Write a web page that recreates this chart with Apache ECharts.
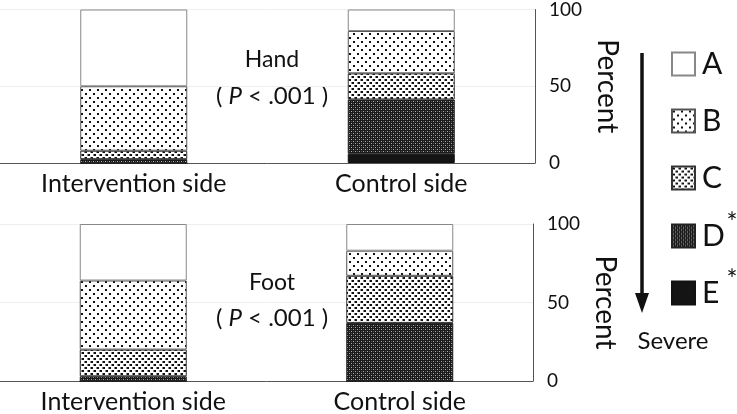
<!DOCTYPE html>
<html>
<head>
<meta charset="utf-8">
<script src="https://cdn.jsdelivr.net/npm/echarts@6/dist/echarts.min.js"></script>
<style>html,body{margin:0;padding:0;background:#fff;}#c{width:737px;height:414px;}</style>
</head>
<body>
<div id="c"></div>
<script>
// ---- data ----
const categories = ['Intervention side', 'Control side'];
const grades = ['A', 'B', 'C', 'D', 'E'];
const starred = ['D', 'E'];
const yTicks = [0, 50, 100];
// percent per grade, [intervention, control]
const handA = [50, 14];
const handB = [42, 27.6];
const handC = [5.5, 17];
const handD = [2.5, 35.4];
const handE = [0, 6];
const footA = [36, 17];
const footB = [44, 16];
const footC = [17, 30];
const footD = [3, 37];
const footE = [0, 0];
const panelTitles = ['Hand', 'Foot'];

// ---- patterns ----
function tile(w, h, bg, draw) {
  const c = document.createElement('canvas');
  c.width = w; c.height = h;
  const g = c.getContext('2d');
  g.fillStyle = bg; g.fillRect(0, 0, w, h);
  draw(g);
  return c;
}
const patB = tile(8, 8, '#fff', g => { g.fillStyle = '#111'; g.fillRect(1, 1, 2, 2); g.fillRect(5, 5, 2, 2); });
const patC = tile(6, 6, '#fff', g => {
  g.fillStyle = '#111';
  g.fillRect(1, 1, 2, 2); g.fillRect(4, 4, 2, 2);
  g.fillStyle = '#888';
  g.fillRect(0, 1, 1, 2); g.fillRect(3, 4, 1, 2);
});
const patD = tile(4, 4, '#1a1a1a', g => {
  g.fillStyle = '#b0b0b0'; g.fillRect(1, 1, 1, 1); g.fillRect(3, 3, 1, 1);
  g.fillStyle = '#555'; g.fillRect(3, 1, 1, 1); g.fillRect(1, 3, 1, 1);
});
const fills = {
  A: '#ffffff',
  B: { image: patB, repeat: 'repeat' },
  C: { image: patC, repeat: 'repeat' },
  D: { image: patD, repeat: 'repeat' },
  E: '#141414'
};
const borders = { A: '#888', B: '#555', C: '#333', D: '#222', E: '#111' };

const FONT = 'Lato';
const chart = echarts.init(document.getElementById('c'));

const handData = { A: handA, B: handB, C: handC, D: handD, E: handE };
const footData = { A: footA, B: footB, C: footC, D: footD, E: footE };

const series = [];
[[handData, 0, 'hand'], [footData, 1, 'foot']].forEach(([d, gi, st]) => {
  ['E', 'D', 'C', 'B', 'A'].forEach(k => {
    series.push({
      name: k, type: 'bar', stack: st, xAxisIndex: gi, yAxisIndex: gi,
      barWidth: 107, data: d[k],
      itemStyle: { color: fills[k], borderColor: borders[k], borderWidth: 1 },
      emphasis: { disabled: true }
    });
  });
});

const xAx = gi => ({
  type: 'category', gridIndex: gi, data: categories,
  axisLine: { lineStyle: { color: '#555', width: 1 } },
  axisTick: { show: false },
  axisLabel: { fontFamily: FONT, fontSize: 25, color: '#111', margin: 8 }
});
const yAx = gi => ({
  type: 'value', gridIndex: gi, position: 'right', min: yTicks[0], max: yTicks[yTicks.length - 1], interval: 50,
  axisLine: { show: true, lineStyle: { color: '#555' } },
  axisTick: { show: false },
  axisLabel: { fontFamily: FONT, fontSize: 19, color: '#111', margin: 14 },
  splitLine: { show: true, lineStyle: { color: '#eeeeee' } },
  name: 'Percent', nameLocation: 'middle', nameRotate: -90, nameGap: 56,
  nameTextStyle: { fontFamily: FONT, fontSize: 28, color: '#111' }
});

const pRich = {
  n: { fontFamily: FONT, fontSize: 24, fill: '#111' },
  i: { fontFamily: FONT, fontSize: 24, fontStyle: 'italic', fill: '#111' }
};

const legendTops = [64, 121, 178, 236, 293];
const legends = grades.map((g, i) => ({
  orient: 'vertical', left: 666, top: legendTops[i] - 20,
  data: [g], itemWidth: 23, itemHeight: 23, icon: 'rect',
  selectedMode: false,
  textStyle: { fontFamily: FONT, fontSize: 30, color: '#111', lineHeight: 24, padding: [0, 0, 0, 2] }
}));

const graphics = [
  { type: 'text', x: 272, y: 60, style: { text: panelTitles[0], font: '23px ' + FONT, fill: '#111', align: 'center', verticalAlign: 'middle' } },
  { type: 'text', x: 272, y: 96, style: { text: '( {i|P} < .001 )', rich: pRich, font: '24px ' + FONT, fill: '#111', align: 'center', verticalAlign: 'middle' } },
  { type: 'text', x: 272, y: 283, style: { text: panelTitles[1], font: '23px ' + FONT, fill: '#111', align: 'center', verticalAlign: 'middle' } },
  { type: 'text', x: 272, y: 318, style: { text: '( {i|P} < .001 )', rich: pRich, font: '24px ' + FONT, fill: '#111', align: 'center', verticalAlign: 'middle' } },
  { type: 'line', shape: { x1: 642, y1: 53, x2: 642, y2: 298 }, style: { stroke: '#111', lineWidth: 3.5 } },
  { type: 'polygon', shape: { points: [[635, 293], [649, 293], [642, 313]] }, style: { fill: '#111' } },
  { type: 'text', x: 673, y: 341, style: { text: 'Severe', font: '24px ' + FONT, fill: '#111', align: 'center', verticalAlign: 'middle' } }
];
starred.forEach(g => {
  const i = grades.indexOf(g);
  graphics.push({ type: 'text', x: 732, y: legendTops[i] - 12, style: { text: '*', font: '26px ' + FONT, fill: '#111', align: 'center', verticalAlign: 'middle' } });
});

chart.setOption({
  animation: false,
  grid: [
    { left: 0, right: 202, top: 6, height: 157 },
    { left: 0, right: 204, top: 224, height: 158 }
  ],
  xAxis: [xAx(0), xAx(1)],
  yAxis: [yAx(0), yAx(1)],
  legend: legends,
  graphic: graphics,
  series: series
});
</script>
</body>
</html>
